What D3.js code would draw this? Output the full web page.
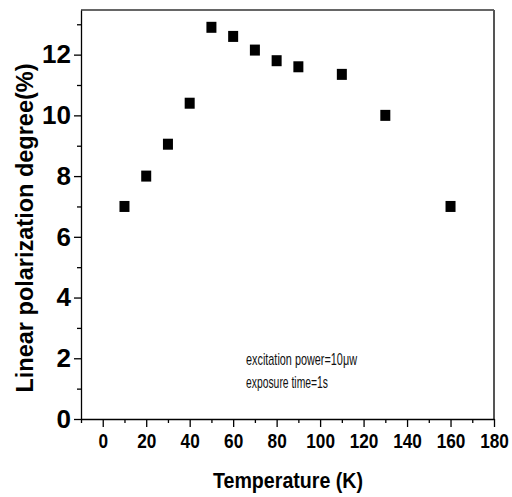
<!DOCTYPE html>
<html>
<head>
<meta charset="utf-8">
<script src="https://cdn.jsdelivr.net/npm/d3@7"></script>
<style>
  body { margin: 0; background: #fff; }
  svg { display: block; }
</style>
</head>
<body>
<div id="chart"></div>
<script>
// data
const temperatures = [10, 20, 30, 40, 50, 60, 70, 80, 90, 110, 130, 160];
const polarization = [7.0, 8.0, 9.05, 10.4, 12.9, 12.6, 12.15, 11.8, 11.6, 11.35, 10.0, 7.0];
const xMajorTicks = [0, 20, 40, 60, 80, 100, 120, 140, 160, 180];
const xMinorTicks = [-10, 10, 30, 50, 70, 90, 110, 130, 150, 170];
const yMajorTicks = [0, 2, 4, 6, 8, 10, 12];
const yMinorTicks = [1, 3, 5, 7, 9, 11, 13];
const noteLines = ['excitation power=10\u03bcw', 'exposure time=1s'];

const width = 512;
const height = 497;
const margin = { left: 81, right: 18, top: 10, bottom: 78 };

const svg = d3.select('#chart').append('svg')
  .attr('width', width)
  .attr('height', height);

const xScale = d3.scaleLinear()
  .domain([-10, 180])
  .range([margin.left, width - margin.right]);
const yScale = d3.scaleLinear()
  .domain([0, 13.47])
  .range([height - margin.bottom, margin.top]);

const x0 = margin.left, x1 = width - margin.right;
const y0 = height - margin.bottom, y1 = margin.top;

// frame: top and right edges
svg.append('line')
  .attr('x1', x0).attr('x2', x1).attr('y1', y1).attr('y2', y1)
  .attr('stroke', '#333').attr('stroke-width', 1.5);
svg.append('line')
  .attr('x1', x1).attr('x2', x1).attr('y1', y1).attr('y2', y0)
  .attr('stroke', '#555').attr('stroke-width', 2);

// x axis
const xAxis = svg.append('g')
  .attr('class', 'x-axis')
  .attr('transform', `translate(0, ${y0})`)
  .call(d3.axisBottom(xScale).tickValues(xMajorTicks).tickSize(8).tickPadding(6).tickSizeOuter(0));
svg.append('g')
  .attr('transform', `translate(0, ${y0})`)
  .call(d3.axisBottom(xScale).tickValues(xMinorTicks).tickSize(4).tickFormat('').tickSizeOuter(0))
  .select('.domain').remove();
// narrow look: squeeze the labels horizontally
xAxis.selectAll('text')
  .attr('fill', '#000')
  .attr('font-family', '"Liberation Sans", Arial, sans-serif')
  .attr('font-weight', 'bold')
  .attr('font-size', 21)
  .attr('transform', 'scale(0.82, 1)');

// y axis
const yAxis = svg.append('g')
  .attr('class', 'y-axis')
  .attr('transform', `translate(${x0}, 0)`)
  .call(d3.axisLeft(yScale).tickValues(yMajorTicks).tickSize(7).tickPadding(3).tickSizeOuter(0));
svg.append('g')
  .attr('transform', `translate(${x0}, 0)`)
  .call(d3.axisLeft(yScale).tickValues(yMinorTicks).tickSize(4).tickFormat('').tickSizeOuter(0))
  .select('.domain').remove();
yAxis.selectAll('text')
  .attr('fill', '#000')
  .attr('font-family', '"Liberation Sans", Arial, sans-serif')
  .attr('font-weight', 'bold')
  .attr('font-size', 26);

svg.selectAll('.domain, .tick line')
  .attr('stroke', '#000')
  .attr('stroke-width', 1.3);

// axis titles
svg.append('text')
  .attr('x', 213)
  .attr('y', 488)
  .attr('font-family', '"Liberation Sans", Arial, sans-serif')
  .attr('font-weight', 'bold')
  .attr('font-size', 22)
  .attr('textLength', 150)
  .attr('lengthAdjust', 'spacingAndGlyphs')
  .text('Temperature (K)');

svg.append('text')
  .attr('transform', 'translate(33, 228) rotate(-90)')
  .attr('text-anchor', 'middle')
  .attr('font-family', '"Liberation Sans", Arial, sans-serif')
  .attr('font-weight', 'bold')
  .attr('font-size', 23.5)
  .text('Linear polarization degree(%)');

// annotation
const noteWidths = [111, 82];
svg.append('g')
  .selectAll('text')
  .data(noteLines)
  .join('text')
  .attr('x', 246)
  .attr('y', (d, i) => 365 + i * 23)
  .attr('font-family', '"Liberation Sans", Arial, sans-serif')
  .attr('font-size', 17)
  .attr('textLength', (d, i) => noteWidths[i])
  .attr('lengthAdjust', 'spacingAndGlyphs')
  .attr('fill', '#111')
  .text(d => d);

// square markers
const markW = 10, markH = 11;
svg.append('g')
  .selectAll('rect')
  .data(temperatures.map((t, i) => ({ t, v: polarization[i] })))
  .join('rect')
  .attr('x', d => xScale(d.t) - markW / 2)
  .attr('y', d => yScale(d.v) - markH / 2)
  .attr('width', markW)
  .attr('height', markH)
  .attr('fill', '#000');
</script>
</body>
</html>
